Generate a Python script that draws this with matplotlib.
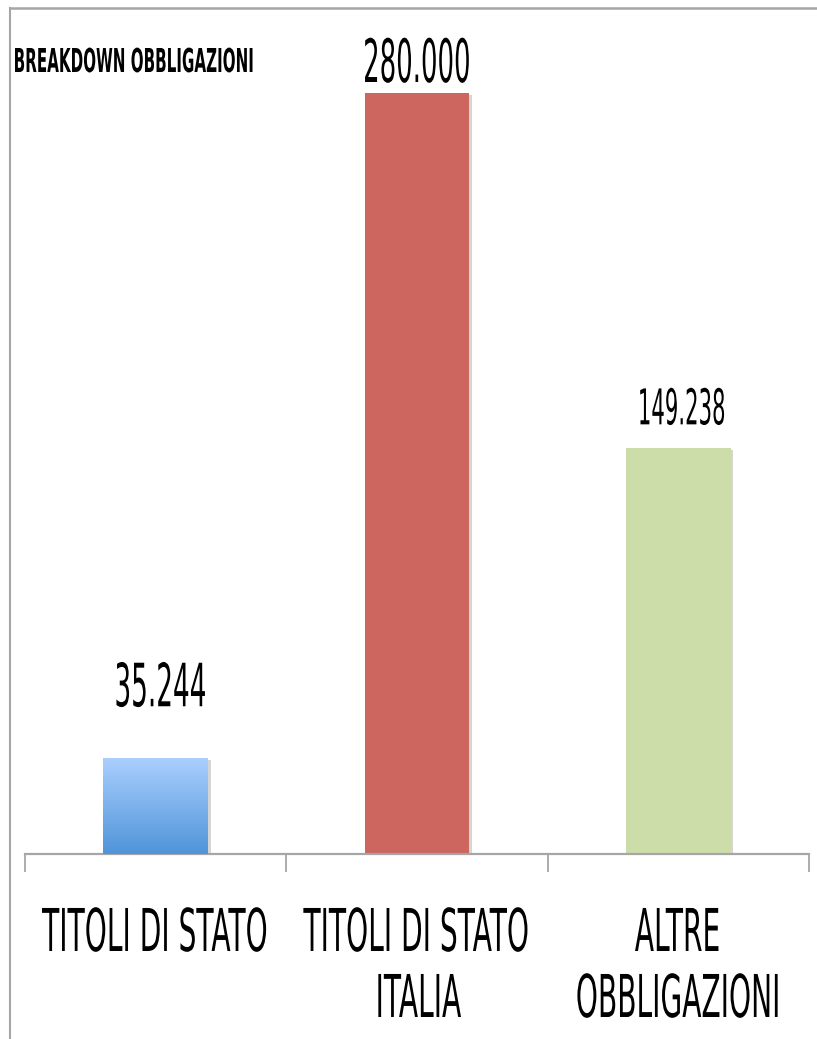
import numpy as np
import matplotlib
matplotlib.use('Agg')
import matplotlib.pyplot as plt
from matplotlib import patheffects as pe
from matplotlib.text import Text
from matplotlib.transforms import Affine2D, Bbox, offset_copy
from matplotlib.lines import Line2D
from matplotlib.colors import LinearSegmentedColormap

categories = ['TITOLI DI STATO', 'TITOLI DI STATO\nITALIA', 'ALTRE\nOBBLIGAZIONI']
values = [35244, 280000, 149238]
value_labels = ['35.244', '280.000', '149.238']
bar_colors = ['none', '#CD665F', '#CDDDAA']
title = 'BREAKDOWN OBBLIGAZIONI'


class Squeeze(pe.AbstractPathEffect):
    # the original text is squashed horizontally, so narrow the glyphs
    def __init__(self, sx, anchor='center'):
        super().__init__()
        self.sx = sx
        self.anchor = anchor

    def draw_path(self, renderer, gc, tpath, affine, rgbFace=None):
        bb = tpath.get_extents(affine)
        cx = bb.x0 if self.anchor == 'left' else (bb.x0 + bb.x1) / 2
        sq = Affine2D().translate(-cx, 0).scale(self.sx, 1).translate(cx, 0)
        renderer.draw_path(gc, tpath, affine + sq, rgbFace)


class NarrowText(Text):
    # normal text object, drawn narrowed; extent reports the narrowed size
    def __init__(self, x, y, s, sx=0.5, anchor='center', **kw):
        super().__init__(x, y, s, **kw)
        self.sx = sx
        self.anchor = anchor
        self.set_path_effects([Squeeze(sx, anchor)])

    def get_window_extent(self, renderer=None, dpi=None):
        bb = super().get_window_extent(renderer, dpi)
        cx = bb.x0 if self.anchor == 'left' else (bb.x0 + bb.x1) / 2
        return Bbox([[cx + (bb.x0 - cx) * self.sx, bb.y0],
                     [cx + (bb.x1 - cx) * self.sx, bb.y1]])


W, H = 817, 1039
fig = plt.figure(figsize=(W / 100, H / 100), dpi=100)
ax = fig.add_axes([25 / W, 1 - 854 / H, (809 - 25) / W, (854 - 38.6) / H])

x = np.arange(len(values))
bars = ax.bar(x, values, width=0.4, color=bar_colors, edgecolor='none', zorder=2)
for b in bars:
    b.set_path_effects([pe.SimplePatchShadow(offset=(2, -1.5), shadow_rgbFace='#888888', alpha=0.35),
                        pe.Normal()])

# gradient fill for the first bar
b0 = bars[0]
grad = np.linspace(0, 1, 256).reshape(-1, 1)
cmap = LinearSegmentedColormap.from_list('blu', ['#4F94D9', '#ABCFFE'])
im = ax.imshow(grad, cmap=cmap, origin='lower', aspect='auto', zorder=3,
               extent=[b0.get_x(), b0.get_x() + b0.get_width(), 0, b0.get_height()])
im.set_clip_path(b0)

ax.set_xlim(-0.5, 2.5)
ax.set_ylim(0, 300000)
for s in ['top', 'left', 'right']:
    ax.spines[s].set_visible(False)
ax.spines['bottom'].set_color('#A6A6A6')
ax.spines['bottom'].set_linewidth(1.6)
ax.set_yticks([])

ax.set_xticks([-0.5, 0.5, 1.5, 2.5])
ax.set_xticklabels([])
ax.tick_params(axis='x', length=13, width=1.3, color='#A6A6A6')

# category labels under the axis
lab_tr = offset_copy(ax.get_xaxis_transform(), fig=fig, y=-52, units='dots')
for xi, cat in zip(x, categories):
    t = NarrowText(xi, 0, cat, sx=0.476, transform=lab_tr, ha='center', va='top',
                   fontsize=42.5, linespacing=1.2, clip_on=False)
    ax.add_artist(t)

# value labels above the bars
dx = [3.2, 0, 2]
pads = [37.4, 7.9, 17.3]
sizes = [43, 43, 35.5]
squeezes = [0.44, 0.435, 0.43]
for b, lab, ox, p, fs, sq in zip(bars, value_labels, dx, pads, sizes, squeezes):
    tr = offset_copy(ax.transData, fig=fig, x=ox, y=p, units='points')
    t = NarrowText(b.get_x() + b.get_width() / 2, b.get_height(), lab, sx=sq,
                   transform=tr, ha='center', va='baseline', fontsize=fs, clip_on=False)
    ax.add_artist(t)

fig.add_artist(NarrowText(12 / W, 1 - 72 / H, title, sx=0.46, anchor='left',
                          transform=fig.transFigure, fontsize=23.7, fontweight='bold',
                          va='baseline'))

# outer chart border (only left and top visible in the crop)
fig.add_artist(Line2D([10 / W, 10 / W], [0, 1 - 8 / H], color='#A6A6A6', lw=1.5,
                      transform=fig.transFigure))
fig.add_artist(Line2D([10 / W, 1], [1 - 8 / H, 1 - 8 / H], color='#A6A6A6', lw=1.8,
                      transform=fig.transFigure))

fig.savefig('out.png', dpi=100)
